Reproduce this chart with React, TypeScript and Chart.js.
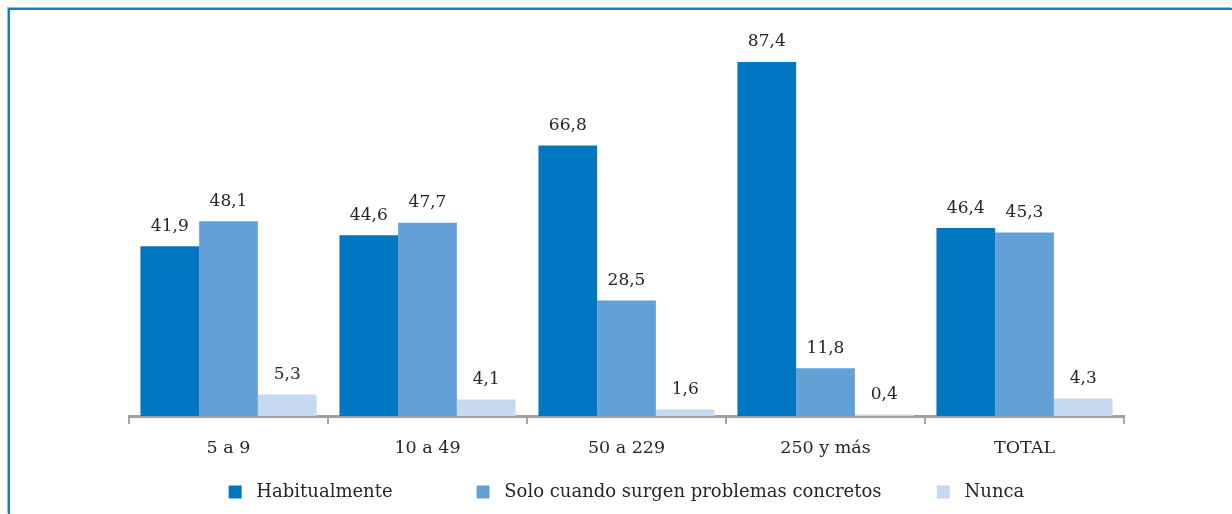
import React, { useEffect, useRef } from "react";
import { Chart, registerables } from "chart.js";

Chart.register(...registerables);

const categories = ["5 a 9", "10 a 49", "50 a 229", "250 y más", "TOTAL"];
const habitualmente = [41.9, 44.6, 66.8, 87.4, 46.4];
const soloCuando = [48.1, 47.7, 28.5, 11.8, 45.3];
const nunca = [5.3, 4.1, 1.6, 0.4, 4.3];
const seriesNames = ["Habitualmente", "Solo cuando surgen problemas concretos", "Nunca"];
const seriesColors = ["#0077c0", "#62a0d6", "#c6d9f0"];

const TEXT = "#262626";
const SERIF = "'DejaVu Serif', serif";
// whitespace used only to space the legend entries like the original
const legendLead = " ";
const legendTrail = ["           ", "      ", ""];

const valueLabels = {
  id: "valueLabels",
  afterDatasetsDraw(chart: any) {
    const ctx = chart.ctx;
    ctx.save();
    ctx.font = `17px ${SERIF}`;
    ctx.fillStyle = TEXT;
    ctx.textAlign = "center";
    ctx.textBaseline = "middle";
    chart.data.datasets.forEach((ds: any, i: number) => {
      const meta = chart.getDatasetMeta(i);
      meta.data.forEach((el: any, j: number) => {
        const v = ds.data[j] as number;
        ctx.fillText(v.toFixed(1).replace(".", ","), el.x, el.y - 20);
      });
    });
    ctx.restore();
  },
};

export default function App() {
  const ref = useRef<HTMLCanvasElement | null>(null);

  useEffect(() => {
    if (!ref.current) return;
    const seriesData = [habitualmente, soloCuando, nunca];
    const chart = new Chart(ref.current, {
      type: "bar",
      data: {
        labels: categories,
        datasets: seriesData.map((d, i) => ({
          label: seriesNames[i],
          data: d,
          backgroundColor: seriesColors[i],
          borderWidth: 0,
          barPercentage: 1,
          categoryPercentage: 0.885,
        })),
      },
      options: {
        responsive: false,
        animation: false,
        events: [],
        layout: { padding: { left: 129, right: 108, top: 11, bottom: 3 } },
        plugins: {
          tooltip: { enabled: false },
          legend: {
            position: "bottom",
            labels: {
              boxWidth: 13,
              boxHeight: 13,
              padding: 21,
              color: TEXT,
              font: { family: SERIF, size: 18 },
              generateLabels: (c: any) => {
                const items = (Chart.defaults.plugins.legend.labels as any).generateLabels(c);
                items.forEach((it: any, i: number) => {
                  it.text = legendLead + it.text + legendTrail[i];
                });
                return items;
              },
            },
          },
        },
        scales: {
          x: {
            afterFit: (scale: any) => {
              scale.height = 46;
            },
            grid: {
              offset: true,
              drawOnChartArea: false,
              drawTicks: true,
              tickLength: 8,
              color: "#a6a6a6",
              lineWidth: 2,
            },
            border: { display: true, color: "#a0a0a0", width: 3 },
            ticks: {
              padding: 14,
              color: TEXT,
              font: { family: SERIF, size: 17.5 },
            },
          },
          y: {
            display: false,
            min: 0,
            max: 100,
          },
        },
      },
      plugins: [valueLabels],
    });
    return () => chart.destroy();
  }, []);

  return (
    <>
      <div
        style={{
          position: "fixed",
          left: 8,
          top: 8,
          width: 1224,
          height: 506,
          borderTop: "2px solid #1a7cc1",
          borderLeft: "2px solid #1a7cc1",
          boxShadow: "-1px -1px 0 #8fc1e6",
          boxSizing: "border-box",
        }}
      />
      <canvas
        ref={ref}
        width={1232}
        height={514}
        style={{ position: "fixed", left: 0, top: 0, width: 1232, height: 514 }}
      />
    </>
  );
}
